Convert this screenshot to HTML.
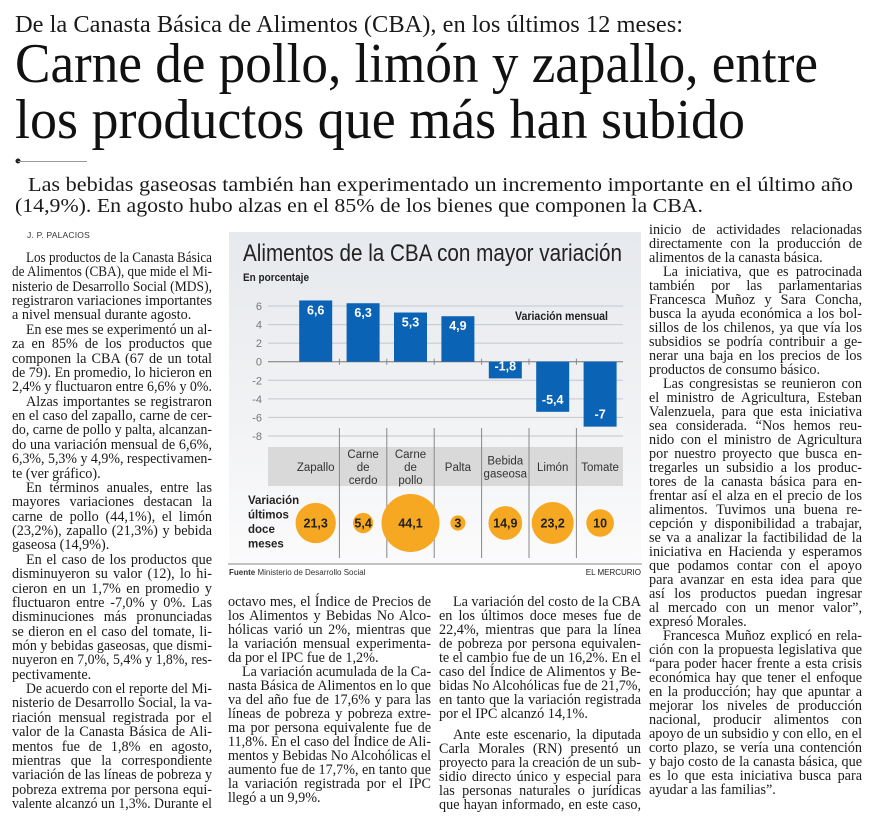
<!DOCTYPE html>
<html><head><meta charset="utf-8">
<style>
html,body{margin:0;padding:0;background:#fff;}
#page{position:relative;width:870px;height:829px;overflow:hidden;background:#fff;}
.ln{position:absolute;font-family:"Liberation Serif",serif;font-size:14.2px;color:#1a1a1a;white-space:nowrap;line-height:15px;height:15px;}
.ln span{display:inline-block;transform-origin:0 0;}
svg text{font-family:"Liberation Sans",sans-serif;}
</style></head>
<body>
<div id="page">
<svg id="hdr" width="870" height="229" style="position:absolute;left:0;top:0">
  <text x="15" y="32" textLength="668" lengthAdjust="spacingAndGlyphs" style="font-family:'Liberation Serif',serif;font-size:24px;fill:#1a1a1a">De la Canasta Básica de Alimentos (CBA), en los últimos 12 meses:</text>
  <text x="15" y="82" textLength="803" lengthAdjust="spacingAndGlyphs" style="font-family:'Liberation Serif',serif;font-size:56px;fill:#111">Carne de pollo, limón y zapallo, entre</text>
  <text x="15" y="138" textLength="730" lengthAdjust="spacingAndGlyphs" style="font-family:'Liberation Serif',serif;font-size:56px;fill:#111">los productos que más han subido</text>
  <circle cx="18" cy="161" r="2.5" fill="#222"/>
  <line x1="18" y1="161.5" x2="87" y2="161.5" stroke="#999" stroke-width="1"/>
  <text x="28" y="191" textLength="825" lengthAdjust="spacingAndGlyphs" style="font-family:'Liberation Serif',serif;font-size:20px;fill:#1a1a1a">Las bebidas gaseosas también han experimentado un incremento importante en el último año</text>
  <text x="15" y="212" textLength="688" lengthAdjust="spacingAndGlyphs" style="font-family:'Liberation Serif',serif;font-size:20px;fill:#1a1a1a">(14,9%). En agosto hubo alzas en el 85% de los bienes que componen la CBA.</text>
</svg>
<div style="position:absolute;left:27px;top:230px;font-family:'Liberation Sans',sans-serif;font-size:8.5px;color:#333;letter-spacing:0.2px">J. P. PALACIOS</div>

<svg id="chart" width="870" height="829" style="position:absolute;left:0;top:0">
  <defs><linearGradient id="bg" x1="0" y1="0" x2="0" y2="1"><stop offset="0" stop-color="#e6e9ed"/><stop offset="0.6" stop-color="#f2f3f5"/><stop offset="1" stop-color="#fbfbfc"/></linearGradient></defs>
  <rect x="229" y="232" width="412" height="332" fill="url(#bg)"/>
  <line x1="228" y1="564" x2="642" y2="564" stroke="#888" stroke-width="1"/>
  <text x="243" y="261" textLength="379" lengthAdjust="spacingAndGlyphs" style="font-size:24px;fill:#222">Alimentos de la CBA con mayor variación</text>
  <text x="243" y="281" style="font-size:11px;font-weight:bold;fill:#222" textLength="66" lengthAdjust="spacingAndGlyphs">En porcentaje</text>
  <text x="515" y="320" style="font-size:11.5px;font-weight:bold;fill:#222" textLength="93" lengthAdjust="spacingAndGlyphs">Variación mensual</text>
  <g id="grid"></g><g id="bars"></g><g id="band"></g><g id="bubbles"></g>
  <text x="248" y="504" style="font-size:11.5px;font-weight:bold;fill:#222"><tspan x="248">Variación</tspan><tspan x="248" dy="14.5">últimos</tspan><tspan x="248" dy="14.5">doce</tspan><tspan x="248" dy="14.5">meses</tspan></text>
  <text x="229" y="575" style="font-size:8px;fill:#333"><tspan font-weight="bold">Fuente</tspan> Ministerio de Desarrollo Social</text>
  <text x="641" y="575" text-anchor="end" style="font-size:8px;fill:#222">EL MERCURIO</text>
</svg>
</div>
<script>
const categories = [["Zapallo"],["Carne","de","cerdo"],["Carne","de","pollo"],["Palta"],["Bebida","gaseosa"],["Limón"],["Tomate"]];
const monthly = [6.6, 6.3, 5.3, 4.9, -1.8, -5.4, -7];
const monthlyLabels = ["6,6","6,3","5,3","4,9","-1,8","-5,4","-7"];
const annual = [21.3, 5.4, 44.1, 3, 14.9, 23.2, 10];
const annualLabels = ["21,3","5,4","44,1","3","14,9","23,2","10"];
const yTicks = [6,4,2,0,-2,-4,-6,-8];

const NS="http://www.w3.org/2000/svg";
const plotL=268, plotR=623, step=47.4, firstC=315.7;
function yPos(v){return 361.7 - v*9.28;}
function xPos(i){return firstC + i*step;}
function rad(v){return 29*Math.sqrt(v/44.1);}
function mk(tag,attrs,parent){const e=document.createElementNS(NS,tag);for(const k in attrs)e.setAttribute(k,attrs[k]);parent.appendChild(e);return e;}
const grid=document.getElementById('grid'),bars=document.getElementById('bars'),band=document.getElementById('band'),bub=document.getElementById('bubbles');
yTicks.forEach(t=>{
  const l=mk('line',{x1:plotL,x2:plotR,y1:yPos(t),y2:yPos(t),stroke:t===0?'#777':'#c4c7cb','stroke-width':1},grid);
  
  
  const tx=mk('text',{x:262,y:yPos(t)+4,'text-anchor':'end',style:'font-size:11px;fill:#777'},grid);
  tx.textContent=t;
  
  
});
const bandRect=mk('rect',{x:plotL,y:447,width:plotR-plotL,height:39,fill:'#d9d9d9'},band);


for(let i=1;i<categories.length;i++){
  const sx=xPos(i)-step/2;
  const s=mk('line',{x1:sx,x2:sx,y1:428,y2:558,stroke:'#888','stroke-width':1},band);
  
  
  const tk=mk('line',{x1:sx,x2:sx,y1:yPos(0)-3,y2:yPos(0)+3,stroke:'#888','stroke-width':1},band);
  
  
}
categories.forEach((c,i)=>{
  const t=mk('text',{x:xPos(i),'text-anchor':'middle',style:'font-size:11.5px;fill:#333'},band);
  const y0=467-(c.length-1)*6.5+4;
  c.forEach((w,j)=>{const ts=mk('tspan',{x:xPos(i),y:y0+j*13},t);ts.textContent=w;});
  
  
});
monthly.forEach((v,i)=>{
  const y1=yPos(Math.max(v,0)),y2=yPos(Math.min(v,0));
  const r=mk('rect',{x:xPos(i)-16.5,y:y1,width:33,height:y2-y1,fill:'#0b63b5'},bars);
  
  
  const ly=v>=0?y1+14:y2-8;
  const t=mk('text',{x:xPos(i),y:ly,'text-anchor':'middle',style:'font-size:12.5px;font-weight:bold;fill:#fff'},bars);
  t.textContent=monthlyLabels[i];
  
  
});
annual.forEach((v,i)=>{
  const c=mk('circle',{cx:xPos(i),cy:523,r:rad(v),fill:'#f6a823'},bub);
  
  
  const t=mk('text',{x:xPos(i),y:527.5,'text-anchor':'middle',style:'font-size:12.5px;font-weight:bold;fill:#222'},bub);
  t.textContent=annualLabels[i];
  
  
});

const cols=[
 {x:12,y:262,w:200,lh:14.37,name:'column-1',lines:[
 "¶Los productos de la Canasta Básica","de Alimentos (CBA), que mide el Mi-","nisterio de Desarrollo Social (MDS),","registraron variaciones importantes","a nivel mensual durante agosto.|",
 "¶En ese mes se experimentó un al-","za en 85% de los productos que","componen la CBA (67 de un total","de 79). En promedio, lo hicieron en","2,4% y fluctuaron entre 6,6% y 0%.|",
 "¶Alzas importantes se registraron","en el caso del zapallo, carne de cer-","do, carne de pollo y palta, alcanzan-","do una variación mensual de 6,6%,","6,3%, 5,3% y 4,9%, respectivamen-","te (ver gráfico).|",
 "¶En términos anuales, entre las","mayores variaciones destacan la","carne de pollo (44,1%), el limón","(23,2%), zapallo (21,3%) y bebida","gaseosa (14,9%).|",
 "¶En el caso de los productos que","disminuyeron su valor (12), lo hi-","cieron en un 1,7% en promedio y","fluctuaron entre -7,0% y 0%. Las","disminuciones más pronunciadas","se dieron en el caso del tomate, li-","món y bebidas gaseosas, que dismi-","nuyeron en 7,0%, 5,4% y 1,8%, res-","pectivamente.|",
 "¶De acuerdo con el reporte del Mi-","nisterio de Desarrollo Social, la va-","riación mensual registrada por el","valor de la Canasta Básica de Ali-","mentos fue de 1,8% en agosto,","mientras que la correspondiente","variación de las líneas de pobreza y","pobreza extrema por persona equi-","valente alcanzó un 1,3%. Durante el"]},
 {x:228,y:606,w:203,lh:14.0,name:'column-2',lines:[
 "octavo mes, el Índice de Precios de","los Alimentos y Bebidas No Alco-","hólicas varió un 2%, mientras que","la variación mensual experimenta-","da por el IPC fue de 1,2%.|",
 "¶La variación acumulada de la Ca-","nasta Básica de Alimentos en lo que","va del año fue de 17,6% y para las","líneas de pobreza y pobreza extre-","ma por persona equivalente fue de","11,8%. En el caso del Índice de Ali-","mentos y Bebidas No Alcohólicas el","aumento fue de 17,7%, en tanto que","la variación registrada por el IPC","llegó a un 9,9%.|"]},
 {x:439,y:606,w:202,lh:14.0,name:'column-3',lines:[
 "¶La variación del costo de la CBA","en los últimos doce meses fue de","22,4%, mientras que para la línea","de pobreza por persona equivalen-","te el cambio fue de un 16,2%. En el","caso del Índice de Alimentos y Be-","bidas No Alcohólicas fue de 21,7%,","en tanto que la variación registrada","por el IPC alcanzó 14,1%.|","",
 "¶Ante este escenario, la diputada","Carla Morales (RN) presentó un","proyecto para la creación de un sub-","sidio directo único y especial para","las personas naturales o jurídicas","que hayan informado, en este caso,"]},
 {x:649,y:234,w:213,lh:14.0,name:'column-4',lines:[
 "inicio de actividades relacionadas","directamente con la producción de","alimentos de la canasta básica.|",
 "¶La iniciativa, que es patrocinada","también por las parlamentarias","Francesca Muñoz y Sara Concha,","busca la ayuda económica a los bol-","sillos de los chilenos, ya que vía los","subsidios se podría contribuir a ge-","nerar una baja en los precios de los","productos de consumo básico.|",
 "¶Las congresistas se reunieron con","el ministro de Agricultura, Esteban","Valenzuela, para que esta iniciativa","sea considerada. “Nos hemos reu-","nido con el ministro de Agricultura","por nuestro proyecto que busca en-","tregarles un subsidio a los produc-","tores de la canasta básica para en-","frentar así el alza en el precio de los","alimentos. Tuvimos una buena re-","cepción y disponibilidad a trabajar,","se va a analizar la factibilidad de la","iniciativa en Hacienda y esperamos","que podamos contar con el apoyo","para avanzar en esta idea para que","así los productos puedan ingresar","al mercado con un menor valor”,","expresó Morales.|",
 "¶Francesca Muñoz explicó en rela-","ción con la propuesta legislativa que","“para poder hacer frente a esta crisis","económica hay que tener el enfoque","en la producción; hay que apuntar a","mejorar los niveles de producción","nacional, producir alimentos con","apoyo de un subsidio y con ello, en el","corto plazo, se vería una contención","y bajo costo de la canasta básica, que","es lo que esta iniciativa busca para","ayudar a las familias”.|"]}
];
const page=document.getElementById('page');
cols.forEach(col=>{
  let y=col.y;
  col.lines.forEach(raw=>{
    if(raw===""){y+=col.lh*0.5;return;}
    let s=raw,ind=0,last=false;
    if(s[0]==='¶'){s=s.slice(1);ind=14;}
    if(s.endsWith('|')){s=s.slice(0,-1);last=true;}
    const d=document.createElement('div');
    d.className='ln';
    
    
    d.style.left=(col.x+ind)+'px';d.style.top=(y-11)+'px';
    const w=col.w-ind;
    d.style.width=w+'px';
    const sp=document.createElement('span');sp.textContent=s;d.appendChild(sp);
    page.appendChild(d);
    const nat=sp.getBoundingClientRect().width;
    if(nat>w){sp.style.transform='scaleX('+(w/nat)+')';}
    else if(!last){
      const words=s.split(' ').length-1;
      if(words>0)sp.style.wordSpacing=((w-nat)/words)+'px';
    }
    y+=col.lh;
  });
});
</script>
</body></html>
